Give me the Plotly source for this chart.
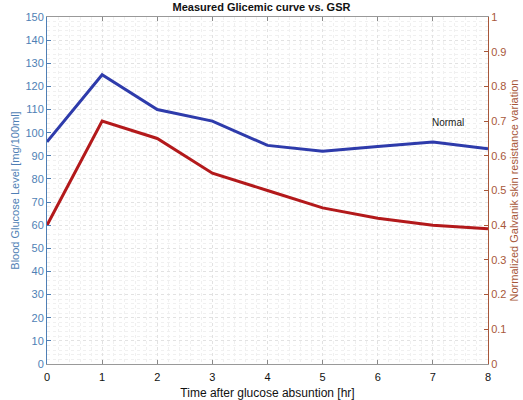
import plotly.graph_objects as go

hours = [0, 1, 2, 3, 4, 5, 6, 7, 8]
glucose = [96, 125, 110, 105, 94.5, 92, 94, 96, 93]
gsr = [0.40, 0.70, 0.65, 0.55, 0.50, 0.45, 0.42, 0.40, 0.39]
left_ticks = list(range(0, 151, 10))
right_ticks = [0, 0.1, 0.2, 0.3, 0.4, 0.5, 0.6, 0.7, 0.8, 0.9, 1]
right_labels = ["0", "0.1", "0.2", "0.3", "0.4", "0.5", "0.6", "0.7", "0.8", "0.9", "1"]

blue_ax = "#4f7fb5"
brown_ax = "#a8573a"
font = "Liberation Sans, Arial, sans-serif"

fig = go.Figure()
fig.add_trace(go.Scatter(x=hours, y=glucose, mode="lines",
                         line=dict(color="#2e3bab", width=3), yaxis="y", showlegend=False))
fig.add_trace(go.Scatter(x=hours, y=gsr, mode="lines",
                         line=dict(color="#b3191b", width=3), yaxis="y2", showlegend=False))

fig.add_annotation(x=7.28, y=104.5, xref="x", yref="y", text="Normal", showarrow=False,
                   font=dict(size=10, color="#222", family=font))

fig.update_layout(
    width=523, height=400,
    margin=dict(l=47, r=35, t=17, b=36),
    paper_bgcolor="white", plot_bgcolor="white",
    title=dict(text="<b>Measured Glicemic curve vs. GSR</b>", x=0.5, xanchor="center",
               y=0.992, yanchor="top", font=dict(size=11, color="#111", family=font)),
    xaxis=dict(range=[0, 8], tickmode="array", tickvals=hours, ticks="inside", ticklen=4,
               tickcolor="#888", showline=True, linecolor="#999", mirror="ticks",
               showgrid=True, gridcolor="#e2e2e2", griddash="dot", gridwidth=1,
               minor=dict(dtick=0.2, showgrid=True, gridcolor="#f0f0f0", griddash="dot"),
               tickfont=dict(size=11, color="#111", family=font), ticklabelstandoff=3,
               title=dict(text="Time after glucose absuntion [hr]", standoff=7,
                          font=dict(size=12, color="#111", family=font)),
               zeroline=False, automargin=False),
    yaxis=dict(range=[0, 150], tickmode="array", tickvals=left_ticks, ticks="inside", ticklen=4,
               tickcolor=blue_ax, showline=True, linecolor=blue_ax,
               showgrid=True, gridcolor="#e2e2e2", griddash="dot", gridwidth=1,
               minor=dict(dtick=2, showgrid=True, gridcolor="#f0f0f0", griddash="dot"),
               tickfont=dict(size=11, color=blue_ax, family=font),
               title=dict(text="Blood Glucose Level [mg/100ml]", standoff=3,
                          font=dict(size=11, color=blue_ax, family=font)),
               zeroline=False, automargin=False),
    yaxis2=dict(range=[0, 1], overlaying="y", side="right", tickmode="array",
                tickvals=right_ticks, ticktext=right_labels, ticks="inside", ticklen=4,
                tickcolor=brown_ax, showline=True, linecolor=brown_ax, showgrid=False,
                tickfont=dict(size=11, color=brown_ax, family=font),
                title=dict(text="Normalized Galvanik skin resistance variation", standoff=4,
                           font=dict(size=11, color=brown_ax, family=font)),
                zeroline=False, automargin=False),
)

fig.write_html("out.html")
